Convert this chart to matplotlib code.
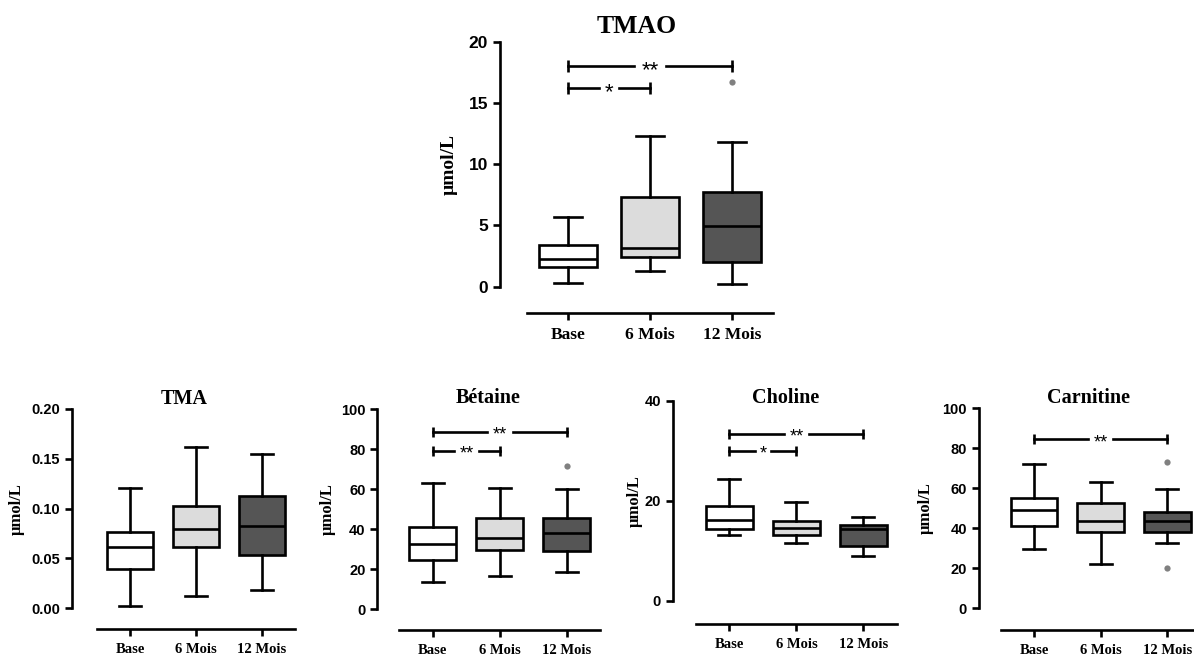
import numpy as np
import matplotlib
matplotlib.use('Agg')
import matplotlib.pyplot as plt
from matplotlib.ticker import FormatStrFormatter

plt.rcParams['font.family'] = ['Liberation Serif', 'DejaVu Serif']
plt.rcParams['font.weight'] = 'bold'
plt.rcParams['axes.labelweight'] = 'bold'

groups = ['Base', '6 Mois', '12 Mois']
colors = ['#ffffff', '#dcdcdc', '#555555']

# TMAO
tmao_low = [0.3, 1.3, 0.2]
tmao_q1 = [1.6, 2.4, 2.05]
tmao_med = [2.3, 3.15, 4.95]
tmao_q3 = [3.4, 7.3, 7.7]
tmao_high = [5.7, 12.3, 11.8]
tmao_out = [[], [], [16.7]]
tmao_sig = [(0, 2, 18.0, '**'), (0, 1, 16.2, '*')]

# TMA
tma_low = [0.002, 0.012, 0.018]
tma_q1 = [0.039, 0.062, 0.053]
tma_med = [0.062, 0.080, 0.083]
tma_q3 = [0.077, 0.103, 0.113]
tma_high = [0.121, 0.162, 0.155]
tma_out = [[], [], []]
tma_sig = []

# Betaine
bet_low = [13.5, 16.7, 18.7]
bet_q1 = [24.7, 29.8, 29.2]
bet_med = [32.5, 35.5, 38.2]
bet_q3 = [41.3, 45.8, 45.5]
bet_high = [63.3, 60.8, 60.2]
bet_out = [[], [], [71.8]]
bet_sig = [(0, 2, 88.7, '**'), (0, 1, 79.3, '**')]

# Choline
cho_low = [13.3, 11.7, 9.0]
cho_q1 = [14.5, 13.2, 11.0]
cho_med = [16.2, 14.7, 14.5]
cho_q3 = [19.0, 16.0, 15.2]
cho_high = [24.5, 19.9, 16.9]
cho_out = [[], [], []]
cho_sig = [(0, 2, 33.5, '**'), (0, 1, 30.0, '*')]

# Carnitine
car_low = [29.5, 22.2, 32.7]
car_q1 = [41.3, 38.2, 38.2]
car_med = [49.0, 43.7, 43.7]
car_q3 = [55.3, 52.8, 48.3]
car_high = [72.0, 63.3, 59.5]
car_out = [[], [], [73.3, 20.3]]
car_sig = [(0, 2, 84.5, '**')]

W, H = 1194, 655
fig = plt.figure(figsize=(W / 100, H / 100), dpi=100)


def panel(rect, title, title_xy, lo, q1, med, q3, hi, out, sig, yticks, fmt,
          off, ylab_x, big=False):
    x0, x1, ytop, ybot = rect
    ax = fig.add_axes([x0 / W, 1 - ybot / H, (x1 - x0) / W, (ybot - ytop) / H])
    lw = 1.9
    # spines first: moving them resets the ticks
    for s in ['top', 'right']:
        ax.spines[s].set_visible(False)
    ax.spines['left'].set_position(('outward', off[0] * 0.72))
    ax.spines['bottom'].set_position(('outward', off[1] * 0.72))
    ax.spines['left'].set_linewidth(lw)
    ax.spines['bottom'].set_linewidth(lw)

    stats = []
    for i in range(3):
        stats.append(dict(whislo=lo[i], q1=q1[i], med=med[i], q3=q3[i],
                          whishi=hi[i], fliers=out[i]))
    bp = ax.bxp(stats, positions=[0, 1, 2], widths=0.7, capwidths=0.33,
                patch_artist=True,
                boxprops=dict(linewidth=lw, edgecolor='black'),
                medianprops=dict(linewidth=lw, color='black'),
                whiskerprops=dict(linewidth=lw, color='black'),
                capprops=dict(linewidth=lw, color='black'),
                flierprops=dict(marker='o', markersize=4.5,
                                markerfacecolor='#808080',
                                markeredgecolor='none'))
    for patch, c in zip(bp['boxes'], colors):
        patch.set_facecolor(c)

    ax.set_xlim(-0.5, 2.5)
    ax.set_ylim(yticks[0], yticks[-1])
    ax.set_yticks(yticks)
    ax.yaxis.set_major_formatter(FormatStrFormatter(fmt))
    ax.set_xticks([0, 1, 2])
    ax.set_xticklabels(groups)
    ax.spines['left'].set_bounds(yticks[0], yticks[-1])
    ax.tick_params(axis='both', width=lw, length=5, direction='out')
    ax.tick_params(axis='x', pad=5, labelsize=12.5 if big else 10.5)
    ax.tick_params(axis='y', labelsize=12.5 if big else 10.5,
                   labelfontfamily='Liberation Sans')

    ax.set_ylabel('µmol/L', fontsize=14 if big else 12)
    ax.yaxis.set_label_coords((ylab_x - x0) / (x1 - x0), 0.5)

    fig.text(title_xy[0] / W, 1 - title_xy[1] / H, title, ha='center',
             va='baseline', fontsize=18.5 if big else 14.5)

    fs = 16 if big else 13
    for a, b, y, txt in sig:
        mid = (a + b) / 2
        gap = 0.125 if len(txt) == 1 else 0.19
        ax.plot([a, mid - gap], [y, y], color='black', linewidth=lw,
                marker='|', markevery=[0], markersize=8 if big else 7,
                markeredgewidth=lw, clip_on=False)
        ax.plot([mid + gap, b], [y, y], color='black', linewidth=lw,
                marker='|', markevery=[1], markersize=8 if big else 7,
                markeredgewidth=lw, clip_on=False)
        ax.annotate(txt, xy=(mid, y), xytext=(0, -0.43 * fs),
                    textcoords='offset points', ha='center', va='baseline',
                    fontsize=fs, fontfamily='Liberation Sans',
                    fontweight='normal', annotation_clip=False)
    return ax


panel((527, 773, 41.7, 286.7), 'TMAO', (637, 33), tmao_low, tmao_q1, tmao_med,
      tmao_q3, tmao_high, tmao_out, tmao_sig, [0, 5, 10, 15, 20], '%d',
      (27, 26), 458, big=True)
panel((97, 295, 409, 608.3), 'TMA', (184, 404), tma_low, tma_q1, tma_med,
      tma_q3, tma_high, tma_out, tma_sig, [0, 0.05, 0.10, 0.15, 0.20], '%.2f',
      (25, 21), 25)
panel((399.4, 600.4, 409.3, 609.3), 'Bétaine', (488, 403), bet_low, bet_q1,
      bet_med, bet_q3, bet_high, bet_out, bet_sig, [0, 20, 40, 60, 80, 100],
      '%d', (22, 21), 336)
panel((695.9, 896.9, 401, 601), 'Choline', (786, 403), cho_low, cho_q1,
      cho_med, cho_q3, cho_high, cho_out, cho_sig, [0, 20, 40], '%d',
      (23, 23), 643)
panel((1000.7, 1200.6, 408.3, 608.3), 'Carnitine', (1089, 403), car_low,
      car_q1, car_med, car_q3, car_high, car_out, car_sig,
      [0, 20, 40, 60, 80, 100], '%d', (22, 22), 934)

fig.savefig('out.png', dpi=100)
